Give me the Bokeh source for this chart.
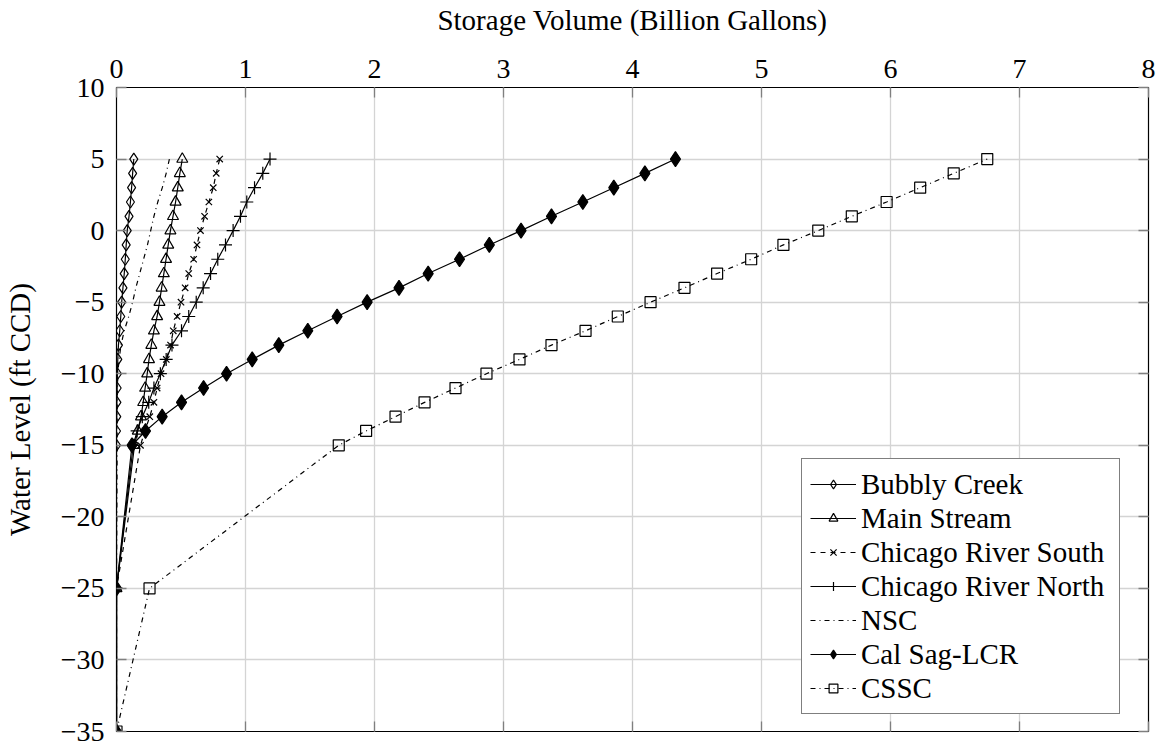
from bokeh.plotting import figure
from bokeh.models import (Range1d, LinearAxis, FixedTicker, Legend, LegendItem)
from bokeh.embed import file_html
from bokeh.resources import INLINE

# ---------------- data ----------------
levels = [-35, -25, -15, -14, -13, -12, -11, -10, -9, -8, -7, -6, -5, -4,
          -3, -2, -1, 0, 1, 2, 3, 4, 5]

bubbly_creek = [0.0, 0.0, 0.0, 0.0, 0.002, 0.003, 0.005, 0.007, 0.010, 0.015,
                0.025, 0.033, 0.040, 0.050, 0.060, 0.068, 0.075, 0.083, 0.097,
                0.108, 0.117, 0.125, 0.134]
main_stream = [0.0, 0.0, 0.14, 0.165, 0.19, 0.207, 0.222, 0.238, 0.252, 0.27,
               0.29, 0.315, 0.333, 0.35, 0.367, 0.384, 0.401, 0.418, 0.438,
               0.458, 0.475, 0.491, 0.51]
chicago_river_south = [0.0, 0.0, 0.186, 0.22, 0.258, 0.29, 0.315, 0.345, 0.386,
                       0.419, 0.44, 0.47, 0.5, 0.532, 0.56, 0.598, 0.624, 0.651,
                       0.683, 0.716, 0.75, 0.773, 0.80]
chicago_river_north = [0.0, 0.0, 0.13, 0.16, 0.20, 0.25, 0.29, 0.34, 0.385,
                       0.43, 0.504, 0.56, 0.618, 0.672, 0.729, 0.785, 0.845,
                       0.904, 0.961, 1.01, 1.07, 1.134, 1.19]
nsc = [0.0, 0.0, 0.005, 0.005, 0.005, 0.006, 0.008, 0.01, 0.02, 0.035, 0.06,
       0.095, 0.125, 0.15, 0.18, 0.21, 0.24, 0.265, 0.29, 0.32, 0.355, 0.385,
       0.41]
cal_sag_lcr = [0.0, 0.0, 0.12, 0.225, 0.354, 0.504, 0.675, 0.853, 1.052, 1.258,
               1.483, 1.71, 1.943, 2.19, 2.416, 2.659, 2.89, 3.136, 3.372,
               3.615, 3.855, 4.096, 4.333]
cssc = [0.0, 0.256, 1.723, 1.935, 2.163, 2.388, 2.628, 2.868, 3.124, 3.372,
        3.636, 3.886, 4.14, 4.403, 4.656, 4.92, 5.17, 5.44, 5.70, 5.97, 6.23,
        6.49, 6.75]

x_ticks = [0, 1, 2, 3, 4, 5, 6, 7, 8]
y_ticks = [-35, -30, -25, -20, -15, -10, -5, 0, 5, 10]

FONT = "Liberation Serif, Times New Roman, serif"
FS_TICK = "28px"
FS = "29px"

p = figure(width=1162, height=747, output_backend="svg", toolbar_location=None,
           x_range=Range1d(0, 8), y_range=Range1d(-35, 10),
           x_axis_location="above",
           min_border_left=116, min_border_top=87, min_border_right=14,
           min_border_bottom=16)
p.outline_line_color = "black"
p.outline_line_width = 1.2
p.background_fill_color = "white"
p.border_fill_color = "white"

# extra axes for inward ticks on right / bottom
p.add_layout(LinearAxis(), "right")
p.add_layout(LinearAxis(), "below")

for ax in p.xaxis:
    ax.ticker = FixedTicker(ticks=x_ticks)
for ax in p.yaxis:
    ax.ticker = FixedTicker(ticks=y_ticks)
    ax.major_label_overrides = {t: (("\u2212" + str(-t)) if t < 0 else str(t)) for t in y_ticks}

for ax in p.axis:
    ax.axis_line_color = None
    ax.major_tick_in = 10
    ax.major_tick_out = 0
    ax.major_tick_line_color = "#7f7f7f"
    ax.major_tick_line_width = 1.3
    ax.minor_tick_line_color = None
    ax.major_label_text_font = FONT
    ax.major_label_text_font_size = FS_TICK
    ax.major_label_text_color = "black"
    ax.axis_label_text_font = FONT
    ax.axis_label_text_font_size = FS
    ax.axis_label_text_font_style = "normal"
    ax.axis_label_text_color = "black"

# hide labels on the extra axes
p.right[0].major_label_overrides = {t: "" for t in y_ticks}
p.right[0].major_label_text_font_size = "1px"
p.right[0].major_label_standoff = 0
p.below[0].major_label_overrides = {t: "" for t in x_ticks}
p.below[0].major_label_text_font_size = "1px"
p.below[0].major_label_standoff = 0

top = p.above[0]
top.axis_label = "Storage Volume (Billion Gallons)"
top.major_label_standoff = 10
top.axis_label_standoff = 21
left = p.left[0]
left.axis_label = "Water Level (ft CCD)"
left.major_label_standoff = 12
left.axis_label_standoff = 22

p.xgrid.ticker = FixedTicker(ticks=x_ticks)
p.ygrid.ticker = FixedTicker(ticks=y_ticks)
for g in p.grid:
    g.grid_line_color = "#d4d4d4"
    g.grid_line_width = 1.3

LW = 1.2
items = []

def series(name, xs, marker=None, size=10, dash="solid", fill=False):
    r_line = p.line(xs, levels, line_color="black", line_width=LW, line_dash=dash)
    rs = [r_line]
    if marker is not None:
        r_m = p.scatter(xs, levels, marker=marker, size=size, line_color="black",
                        line_width=LW, fill_color="black",
                        fill_alpha=1.0 if fill else 0.0)
        rs.append(r_m)
    items.append(LegendItem(label=name, renderers=rs))

series("Bubbly Creek", bubbly_creek, "diamond", 12)
series("Main Stream", main_stream, "triangle", 11)
series("Chicago River South", chicago_river_south, "x", 9, dash="5 5")
series("Chicago River North", chicago_river_north, "cross", 13)
series("NSC", nsc, None, dash="5 4 1 4")
series("Cal Sag-LCR", cal_sag_lcr, "diamond", 15, fill=True)
series("CSSC", cssc, "square", 11, dash="5 4 1 4")

legend = Legend(items=items, location=(685, 17),
                label_text_font=FONT, label_text_font_size=FS,
                label_text_color="black",
                glyph_width=46, glyph_height=22, label_height=34,
                label_width=250,
                label_standoff=5, padding=8, spacing=0, margin=0,
                border_line_color="black", border_line_width=1.2,
                background_fill_color="white", background_fill_alpha=1.0)
p.add_layout(legend, "center")

open("out.html", "w").write(file_html(p, INLINE))
